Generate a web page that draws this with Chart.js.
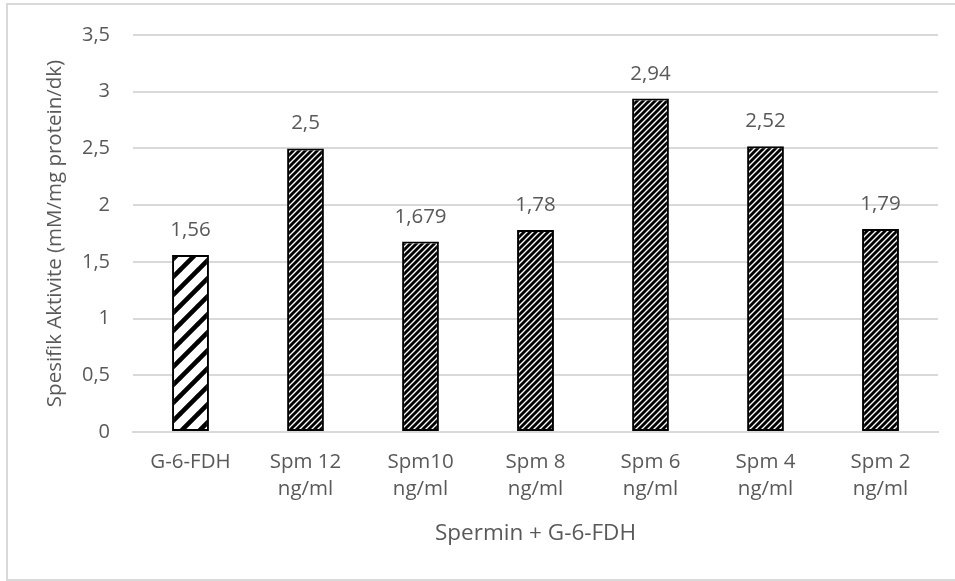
<!DOCTYPE html>
<html>
<head>
<meta charset="utf-8">
<script src="https://cdn.jsdelivr.net/npm/chart.js@4/dist/chart.umd.min.js"></script>
<style>
  html, body { margin: 0; padding: 0; background: #ffffff; }
  #wrap { width: 955px; height: 581px; position: relative; }
</style>
</head>
<body>
<div id="wrap"><canvas id="chart" width="955" height="581"></canvas></div>
<script>
// Categories (concentration groups) and specific activity values
const categories = ['G-6-FDH', ['Spm 12', 'ng/ml'], ['Spm10', 'ng/ml'], ['Spm 8', 'ng/ml'], ['Spm 6', 'ng/ml'], ['Spm 4', 'ng/ml'], ['Spm 2', 'ng/ml']];
const activity = [1.56, 2.5, 1.679, 1.78, 2.94, 2.52, 1.79];
const activityLabels = ['1,56', '2,5', '1,679', '1,78', '2,94', '2,52', '1,79'];
const yMin = 0;
const yMax = 3.5;
const yStep = 0.5;
const xTitle = 'Spermin + G-6-FDH';
const yTitle = 'Spesifik Aktivite (mM/mg protein/dk)';

const FONT = '"Open Sans", "Noto Sans", sans-serif';
const TEXT = '#595959';
const GRID = '#d9d9d9';

// Diagonal hatch fill: '/' stripes repeating every `size` px
function hatch(size, width) {
  const c = document.createElement('canvas');
  c.width = size; c.height = size;
  const g = c.getContext('2d');
  g.fillStyle = '#ffffff';
  g.fillRect(0, 0, size, size);
  g.strokeStyle = '#000000';
  g.lineWidth = width;
  g.lineCap = 'square';
  g.beginPath();
  for (let k = -1; k <= 1; k++) {
    g.moveTo(k * size, size);
    g.lineTo(k * size + size, 0);
  }
  g.stroke();
  return g.createPattern(c, 'repeat');
}

const ctx = document.getElementById('chart').getContext('2d');
const wideHatch = hatch(18, 4.6);
const denseHatch = hatch(6, 2.9);
const fills = activity.map((v, i) => i === 0 ? wideHatch : denseHatch);

// Value labels above each bar
const valueLabelPlugin = {
  id: 'valueLabels',
  afterDatasetsDraw(chart) {
    const c = chart.ctx;
    const meta = chart.getDatasetMeta(0);
    c.save();
    c.font = '20.5px ' + FONT;
    c.fillStyle = TEXT;
    c.textAlign = 'center';
    c.textBaseline = 'alphabetic';
    meta.data.forEach((bar, i) => {
      c.fillText(activityLabels[i], bar.x, bar.y - 19);
    });
    c.restore();
  }
};

// Thin frame around the whole chart
const framePlugin = {
  id: 'frame',
  beforeDraw(chart) {
    const c = chart.ctx;
    c.save();
    c.fillStyle = '#ffffff';
    c.fillRect(0, 0, chart.width, chart.height);
    c.strokeStyle = '#d9d9d9';
    c.lineWidth = 2;
    c.strokeRect(7, 4, 960, 576);
    c.restore();
  }
};

new Chart(ctx, {
  type: 'bar',
  data: {
    labels: categories,
    datasets: [{
      data: activity,
      backgroundColor: fills,
      borderColor: '#000000',
      borderWidth: 2,
      borderSkipped: false,
      categoryPercentage: 1,
      barPercentage: 0.32
    }]
  },
  options: {
    responsive: false,
    animation: false,
    devicePixelRatio: 1,
    layout: { padding: { left: 7, top: 32, right: 17, bottom: 0 } },
    plugins: {
      legend: { display: false },
      tooltip: { enabled: false }
    },
    scales: {
      x: {
        grid: { display: false, drawTicks: false },
        border: { display: true, color: GRID, width: 2 },
        ticks: {
          color: TEXT,
          font: { family: FONT, size: 20.5, lineHeight: 1.32 },
          padding: 17,
          maxRotation: 0,
          autoSkip: false
        },
        title: {
          display: true,
          text: xTitle,
          color: TEXT,
          font: { family: FONT, size: 22.5, lineHeight: 1.2 },
          padding: { top: 0, bottom: 34 }
        },
        afterFit(scale) { scale.height = 149; }
      },
      y: {
        min: yMin,
        max: yMax,
        grid: { color: GRID, lineWidth: 2, drawTicks: false },
        border: { display: false },
        ticks: {
          stepSize: yStep,
          color: TEXT,
          font: { family: FONT, size: 20 },
          padding: 23,
          callback: (v) => String(v).replace('.', ',')
        },
        title: {
          display: true,
          text: yTitle,
          color: TEXT,
          font: { family: FONT, size: 20.5, lineHeight: 1.2 },
          padding: { top: 36, bottom: 0 }
        },
        afterFit(scale) { scale.width = 126; }
      }
    }
  },
  plugins: [framePlugin, valueLabelPlugin]
});
</script>
</body>
</html>
